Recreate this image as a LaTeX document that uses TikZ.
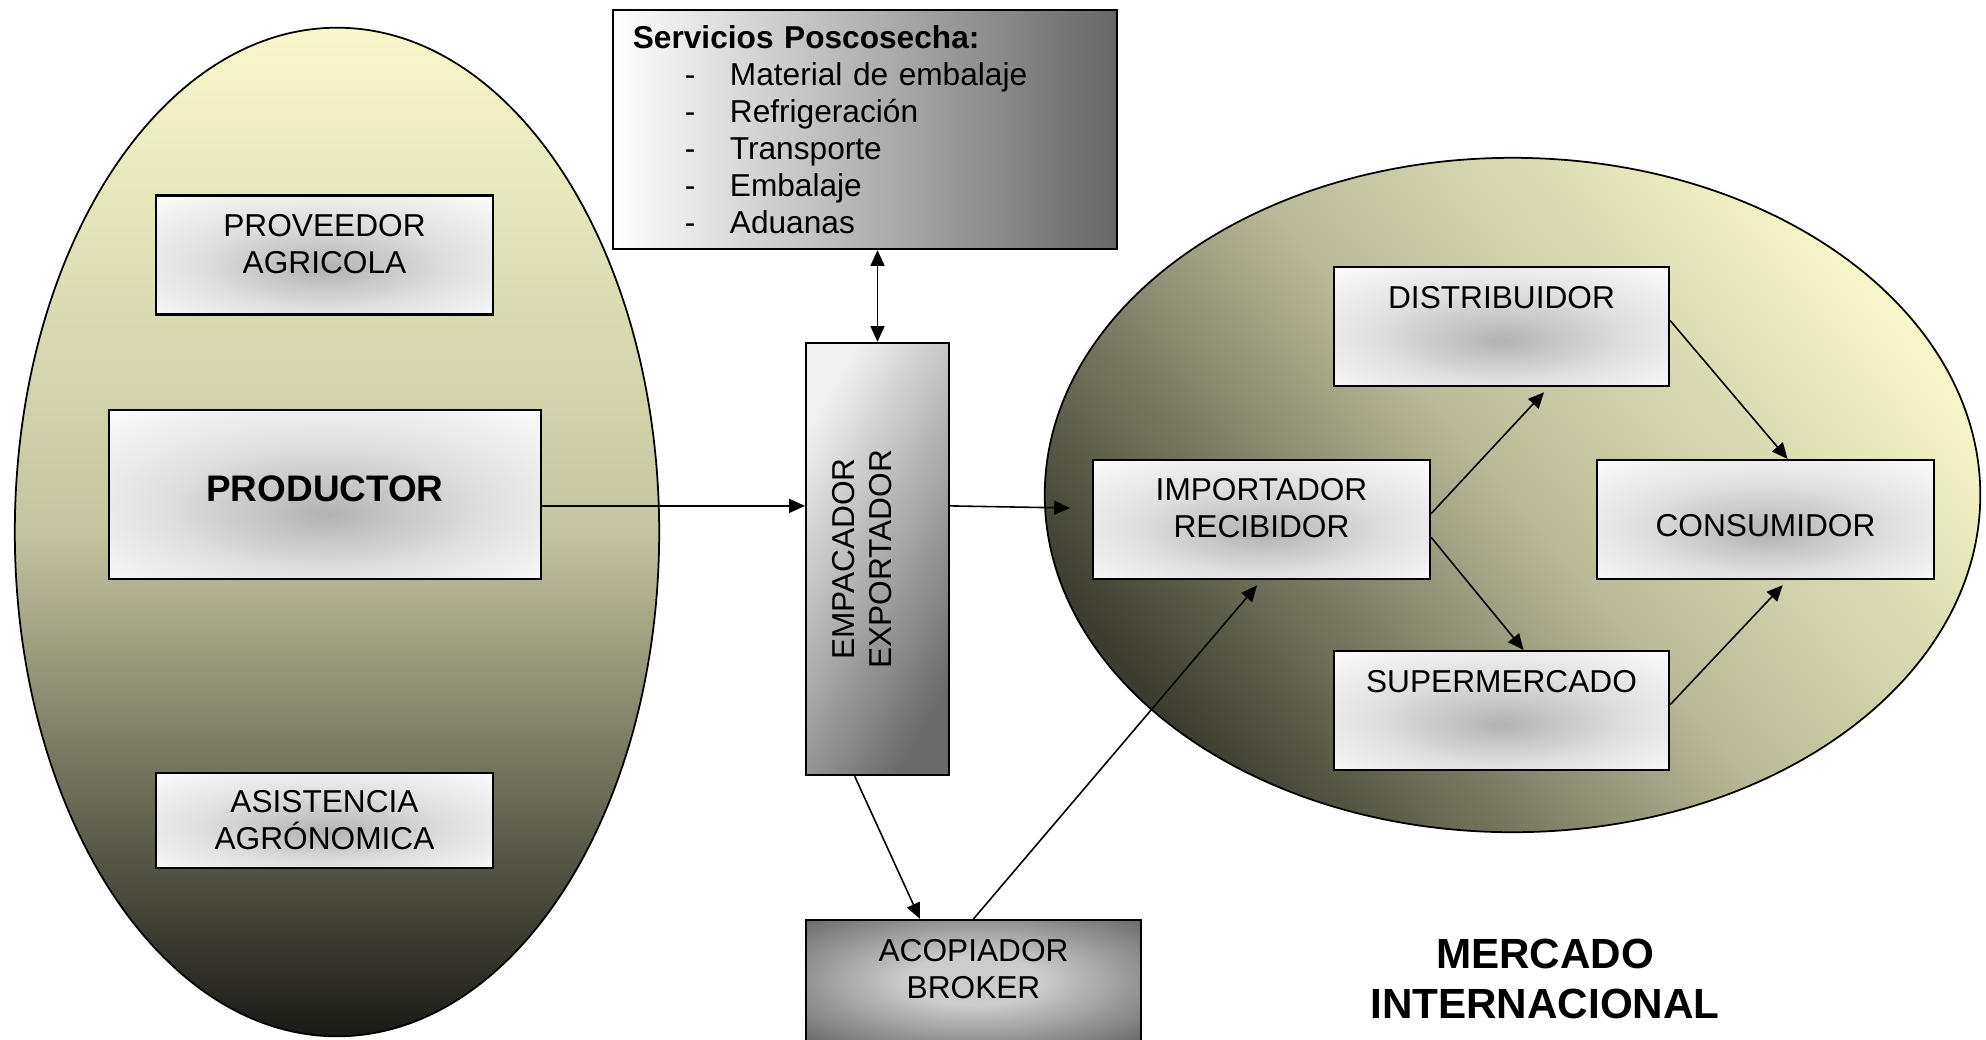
\documentclass[tikz,border=0pt]{standalone}
\usepackage{fontspec}
\setmainfont{Liberation Sans}
\usepackage{tikz}
\usetikzlibrary{arrows.meta, shadings}

\definecolor{farmtop}{HTML}{F8F8CA}
\definecolor{farmmid}{HTML}{C4C4A0}
\definecolor{farmbot}{HTML}{1A1A16}
\definecolor{mkttop}{HTML}{F6F6C8}
\definecolor{mktmid}{HTML}{BABA98}
\definecolor{mktbot}{HTML}{3C3C30}
\colorlet{glowcore}{black!30}
\colorlet{glowhalo}{black!13}
\colorlet{brokerlight}{black!20}
\colorlet{brokerdark}{black!68}

\pgfdeclareradialshading{boxglow}{\pgfpoint{0bp}{-6bp}}{color(0bp)=(glowcore); color(18bp)=(glowhalo); color(38bp)=(white); color(50bp)=(white)}
\pgfdeclareradialshading{brokerglow}{\pgfpoint{0bp}{0bp}}{color(0bp)=(brokerlight); color(10bp)=(brokerlight); color(42bp)=(brokerdark); color(50bp)=(brokerdark)}

\newcommand{\servitem}[1]{\hspace*{0.52cm}\makebox[0.45cm][l]{-}#1}

\tikzset{
  whitebox/.style={draw, line width=0.6pt, shading=boxglow, inner sep=0pt, align=center,
    font=\fontsize{9pt}{10.5pt}\selectfont, minimum width=3.37cm, minimum height=1.19cm},
  upone/.style={text height=6.6pt, text depth=17pt},
  uptwo/.style={text depth=6.5pt},
  servbox/.style={draw, line width=0.6pt, left color=white, middle color=black!22, right color=black!60,
    minimum height=2.39cm, text width=4.64cm, inner xsep=0.2cm, inner ysep=0pt, align=left,
    font=\fontsize{9pt}{10.5pt}\selectfont},
  empbox/.style={draw, line width=0.6pt, left color=white!94!black, right color=black!58, shading angle=60,
    minimum width=1.43cm, minimum height=4.32cm, inner sep=0pt, font=\fontsize{9pt}{10.5pt}\selectfont},
  brokerbox/.style={draw, line width=0.6pt, shading=brokerglow, inner sep=0pt, align=center,
    minimum width=3.35cm, minimum height=1.21cm, font=\fontsize{9pt}{10.5pt}\selectfont},
  link/.style={line width=0.45pt}
}

\begin{document}
\begin{tikzpicture}[x=0.01cm, y=-0.01cm, >={Triangle[length=4.5pt, width=4pt]}]
\useasboundingbox (0,0) rectangle (1986,1039);

\shadedraw[top color=farmtop, bottom color=farmbot, middle color=farmmid, line width=0.5pt]
  (337,532) ellipse [x radius=3.22cm, y radius=5.04cm];
\shadedraw[top color=mkttop, bottom color=mktbot, middle color=mktmid, shading angle=-50, line width=0.5pt]
  (1512.5,495) ellipse [x radius=4.675cm, y radius=3.37cm];

\node[whitebox, uptwo] (prov) at (324.5,255) {PROVEEDOR\\AGRICOLA};
\node[whitebox, text depth=3.6pt, minimum width=4.32cm, minimum height=1.69cm, font=\bfseries\fontsize{10.5pt}{12pt}\selectfont] (prod) at (325,494.5) {PRODUCTOR};
\node[whitebox, minimum height=0.95cm] (asis) at (324.5,820.5) {ASISTENCIA\\AGRÓNOMICA};

\node[servbox] (serv) at (865,129.5) {\textbf{Servicios Poscosecha:}\\
  \servitem{Material de embalaje}\\
  \servitem{Refrigeración}\\
  \servitem{Transporte}\\
  \servitem{Embalaje}\\
  \servitem{Aduanas}};
\node[empbox] (emp) at (877.5,559) {\rotatebox{90}{\begin{tabular}{@{}c@{}}EMPACADOR\\EXPORTADOR\end{tabular}}\kern7pt};
\node[brokerbox, uptwo] (acop) at (973.5,980.5) {ACOPIADOR\\BROKER};

\node[whitebox, uptwo] (imp) at (1261.5,519.5) {IMPORTADOR\\RECIBIDOR};
\node[whitebox, upone, minimum width=3.35cm] (dist) at (1501.5,326.5) {DISTRIBUIDOR};
\node[whitebox, text height=10pt] (cons) at (1765.5,519.5) {CONSUMIDOR};
\node[whitebox, upone, minimum width=3.35cm] (sup) at (1501.5,710.5) {SUPERMERCADO};

\node[align=center, font=\bfseries\fontsize{12pt}{14.2pt}\selectfont] (mercado) at (1545,979) {MERCADO\\INTERNACIONAL};

\coordinate (impin) at (1070,508);
\draw[link, ->] (prod.-3.5) -- (prod.-3.5 -| emp.west);
\draw[link, ->] (prod.-3.5 -| emp.east) -- (impin);
\draw[link, <->] (serv.south -| emp.north) -- (emp.north);
\draw[link, ->] (emp.-96) -- (acop.131);
\draw[link, ->, shorten >=2pt] (acop.north) -- (imp.south);
\draw[link, ->, shorten >=2pt] (imp.2.5) -- (dist.-52);
\draw[link, ->] (imp.-6) -- (sup.70);
\draw[link, ->] (dist.2) -- (cons.70);
\draw[link, ->, shorten >=2pt] (sup.2) -- (cons.-70);
\end{tikzpicture}
\end{document}
